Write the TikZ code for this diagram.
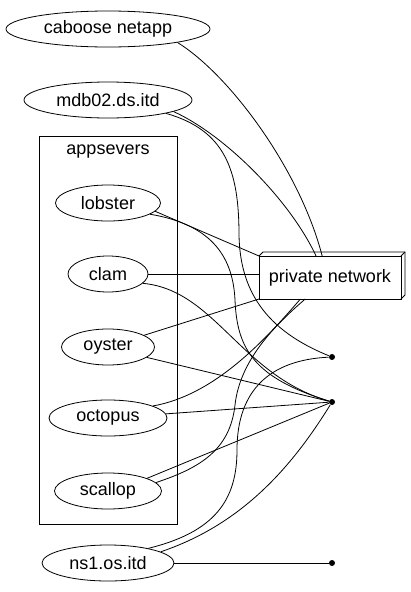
\documentclass[tikz,border=0pt]{standalone}
\usepackage{fontspec}
\setmainfont{Liberation Sans}
\usetikzlibrary{shapes.geometric,calc}
\begin{document}
\begin{tikzpicture}[x=1pt,y=-1pt,line width=0.8pt,
		host/.style={draw,ellipse,inner sep=0pt,minimum height=36pt,font=\fontsize{18}{20}\selectfont},
		netbox/.style={draw,rectangle,inner sep=0pt,outer sep=0pt,minimum width=142pt,minimum height=43pt,font=\fontsize{18}{20}\selectfont},
		dot/.style={circle,fill,inner sep=0pt,minimum size=6pt}]
		\useasboundingbox (0,0) rectangle (411,592);

		\node[host,minimum width=204pt] (caboose) at (108,29){caboose netapp};
		\node[host,minimum width=168pt] (mdb02) at (108,100){mdb02.ds.itd};

		\draw (39,136) rectangle (177,524);
		\node[font=\fontsize{18}{20}\selectfont] (appsevers) at (108,152){appsevers};
			\node[host,minimum width=105pt] (lobster) at (108,203){lobster};
			\node[host,minimum width=80pt] (clam) at (108,274){clam};
			\node[host,minimum width=93pt] (oyster) at (108,347){oyster};
			\node[host,minimum width=118pt] (octopus) at (108,418){octopus};
			\node[host,minimum width=107pt] (scallop) at (108,491){scallop};

		\node[host,minimum width=132pt] (ns1) at (108,563){ns1.os.itd};

		\node[netbox] (pn) at (330,277.5){private network};
			\draw (pn.north west) -- ++(4,-4) -| ($(pn.south east)+(4,-4)$) -- (pn.south east);
			\draw (pn.north east) -- ++(4,-4);

		\node[dot] (p1) at (332,357){};
		\node[dot] (p2) at (332,402){};
		\node[dot] (p3) at (332,563){};

		\draw (caboose.-11) .. controls (230,75) and (300,170) .. (pn.110);
		\draw (mdb02.-10) .. controls (225,135) and (290,200) .. (pn.123);
		\draw (mdb02.-13) .. controls (225,130) and (239,170) .. (239,235) .. controls (240,290) and (265,330) .. (p1);

		\draw (lobster.-10) -- (pn.north west);
		\draw (lobster.-15) .. controls (215,225) and (233,260) .. (235,300) .. controls (237,350) and (255,378) .. (p2);
		\draw (clam) -- (clam -| pn.west);
		\draw (clam.-15) .. controls (215,290) and (240,375) .. (p2);
		\draw (oyster.18) -- (pn.south west);
		\draw (oyster.-15) -- (p2);
		\draw (octopus.15) .. controls (215,395) and (265,340) .. (pn.-144);
		\draw (octopus) -- (p2);
		\draw (scallop.10) .. controls (200,468) and (230,450) .. (235,405) .. controls (240,360) and (275,325) .. (pn.-139);
		\draw (scallop.18) -- (p2);

		\draw (ns1.20) .. controls (215,532) and (237,500) .. (237,450) .. controls (237,390) and (270,360) .. (p1);
		\draw (ns1.12) .. controls (240,525) and (290,470) .. (p2);
		\draw (ns1) -- (p3);
\end{tikzpicture}
\end{document}
